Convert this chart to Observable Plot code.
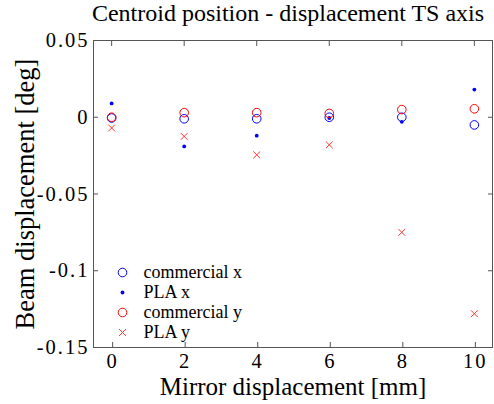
<!DOCTYPE html>
<html>
<head>
<meta charset="utf-8">
<script src="https://cdn.jsdelivr.net/npm/d3@7"></script>
<script src="https://cdn.jsdelivr.net/npm/@observablehq/plot@0.6"></script>
<style>
  html, body { margin: 0; padding: 0; background: #fff; }
  svg { display: block; }
  #chart svg, #chart svg text { font-family: "Liberation Serif", "DejaVu Serif", serif !important; }
  #chart svg g[aria-label="x-axis tick label"] text,
  #chart svg g[aria-label="y-axis tick label"] text { letter-spacing: 2px; }
</style>
</head>
<body>
<div id="chart"></div>
<script>
const titleText = "Centroid position - displacement TS axis";
const xLabel = "Mirror displacement [mm]";
const yLabel = "Beam displacement [deg]";

const displacement = [0, 2, 4, 6, 8, 10];
const commercialX = [-0.0005, -0.001, -0.001, 0, 0, -0.005];
const plaX = [0.009, -0.019, -0.012, -0.0005, -0.003, 0.018];
const commercialY = [0, 0.003, 0.003, 0.0025, 0.005, 0.0055];
const plaY = [-0.007, -0.0125, -0.0245, -0.018, -0.075, -0.128];

const xTicks = [0, 2, 4, 6, 8, 10];
const yTicks = [0.05, 0, -0.05, -0.1, -0.15];

const series = [
  {name: "commercial x", values: commercialX, symbol: "circle", color: "#0000ff", filled: false, r: 4.3},
  {name: "PLA x", values: plaX, symbol: "circle", color: "#0000ff", filled: true, r: 1.9},
  {name: "commercial y", values: commercialY, symbol: "circle", color: "#ff0000", filled: false, r: 4.3},
  {name: "PLA y", values: plaY, symbol: "times", color: "#ff3333", filled: false, r: 3.2}
];

const tickFont = 20.5;
const axisColor = "#555";
const serif = "Liberation Serif";

const marks = [
  Plot.frame({stroke: axisColor}),
  Plot.axisX(xTicks, {anchor: "bottom", tickSize: -5, tickPadding: 11, dx: 1, fontSize: tickFont, fontFamily: serif, stroke: axisColor, color: "#000", label: null}),
  Plot.axisX(xTicks, {anchor: "top", tickSize: -5, tickFormat: () => "", stroke: axisColor, label: null}),
  Plot.axisY(yTicks, {anchor: "left", tickSize: -5, tickPadding: 9, fontSize: tickFont, fontFamily: serif, tickFormat: d => String(d), stroke: axisColor, label: null}),
  Plot.axisY(yTicks, {anchor: "right", tickSize: -5, tickFormat: () => "", stroke: axisColor, label: null})
];

for (const s of series) {
  const rows = displacement.map((d, i) => ({x: d, y: s.values[i]}));
  marks.push(Plot.dot(rows, {
    x: "x", y: "y", symbol: s.symbol, r: s.r,
    stroke: s.filled ? "none" : s.color,
    fill: s.filled ? s.color : "none",
    strokeWidth: 1
  }));
}

series.forEach((s, i) => {
  marks.push(Plot.dot([s.name], {
    x: null, y: null, frameAnchor: "bottom-left", dx: 29, dy: -75 + 20 * i,
    symbol: s.symbol, r: s.r,
    stroke: s.filled ? "none" : s.color,
    fill: s.filled ? s.color : "none",
    strokeWidth: 1
  }));
  marks.push(Plot.text([s.name], {
    text: d => d, frameAnchor: "bottom-left", dx: 50, dy: -75 + 20 * i,
    textAnchor: "start", lineAnchor: "middle", fontSize: 18, fontFamily: serif, fill: "#000"
  }));
});

marks.push(Plot.text([titleText], {text: d => d, frameAnchor: "top", textAnchor: "middle", lineAnchor: "middle", dx: -5, dy: -27, fontSize: 24, fontFamily: serif, fill: "#000"}));
marks.push(Plot.text([xLabel], {text: d => d, frameAnchor: "bottom", textAnchor: "middle", lineAnchor: "middle", dy: 39, fontSize: 25, fontFamily: serif, fill: "#000"}));
marks.push(Plot.text([yLabel], {text: d => d, frameAnchor: "left", textAnchor: "middle", lineAnchor: "middle", dx: -68, rotate: -90, fontSize: 26.5, fontFamily: serif, fill: "#000"}));

const chart = Plot.plot({
  width: 494,
  height: 404,
  marginLeft: 93,
  marginRight: 2,
  marginTop: 40,
  marginBottom: 57,
  style: {fontFamily: serif, background: "#fff", color: "#000"},
  x: {domain: [-0.5, 10.5]},
  y: {domain: [-0.15, 0.05]},
  marks
});
document.getElementById("chart").appendChild(chart);
</script>
</body>
</html>
